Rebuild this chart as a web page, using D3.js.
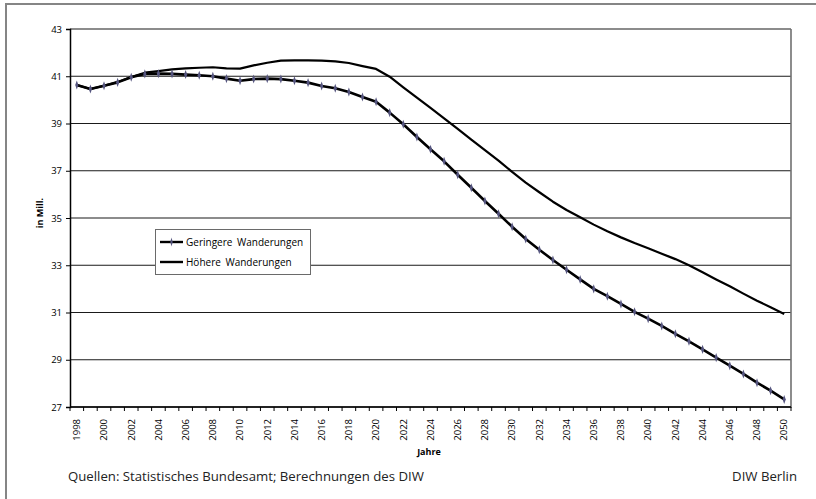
<!DOCTYPE html>
<html>
  <head>
    <meta charset="UTF-8">
    <script src="https://d3js.org/d3.v7.min.js"></script>
    <style>
        body {
            margin: 0;
            background: #fff;
        }
        * {
            font-family: "Open Sans", "Noto Sans", sans-serif;
        }
        .axisLabel {
            font-size: 9.5px;
            fill: #000;
        }
        .axisTitle {
            font-size: 9px;
            font-weight: bold;
            fill: #000;
        }
        .legendText {
            font-size: 10px;
            fill: #000;
            word-spacing: 2px;
        }
        .footer {
            font-size: 13.2px;
            fill: #222;
        }
    </style>
  </head>
  <body>
    <svg id="chart" width="816" height="499"></svg>
    <script>
        // Jahre 1998..2050
        let years = d3.range(1998, 2051)
        let yTicks = [27, 29, 31, 33, 35, 37, 39, 41, 43]
        let seriesNames = ['Geringere Wanderungen', 'Höhere Wanderungen']

        let geringere = [
            40.63, 40.46, 40.60, 40.74, 40.96, 41.10, 41.11, 41.10, 41.07, 41.04,
            41.00, 40.90, 40.81, 40.88, 40.90, 40.88, 40.81, 40.73, 40.59, 40.49,
            40.33, 40.12, 39.92, 39.46, 38.97, 38.43, 37.91, 37.40, 36.83, 36.28,
            35.72, 35.18, 34.63, 34.11, 33.66, 33.22, 32.81, 32.40, 32.00, 31.69,
            31.36, 31.03, 30.74, 30.43, 30.10, 29.78, 29.44, 29.09, 28.75, 28.40,
            28.03, 27.69, 27.32
        ]
        let hoehere = [
            40.63, 40.46, 40.60, 40.76, 40.97, 41.15, 41.22, 41.29, 41.33, 41.36,
            41.38, 41.33, 41.32, 41.46, 41.57, 41.66, 41.67, 41.67, 41.66, 41.63,
            41.56, 41.43, 41.31, 40.98, 40.53, 40.09, 39.66, 39.22, 38.77, 38.32,
            37.87, 37.43, 36.95, 36.50, 36.09, 35.69, 35.34, 35.03, 34.72, 34.44,
            34.18, 33.94, 33.72, 33.49, 33.26, 33.00, 32.70, 32.40, 32.11, 31.80,
            31.50, 31.22, 30.94
        ]

        let svg = d3.select('#chart')
        let plot = {left: 70, top: 29, right: 791, bottom: 407}
        let markerColor = '#55557f'

        // Rahmen
        svg.append('rect')
            .attr('x', 6)
            .attr('y', 4)
            .attr('width', 830)
            .attr('height', 520)
            .attr('fill', 'none')
            .attr('stroke', '#858585')
            .attr('stroke-width', 2)

        let x = d3.scaleBand().domain(years).range([plot.left, plot.right])
        let y = d3.scaleLinear().domain([27, 43]).range([plot.bottom, plot.top])

        // Gitternetz
        svg.append('g')
            .selectAll('line')
            .data(yTicks)
            .enter()
            .append('line')
            .attr('x1', plot.left)
            .attr('x2', plot.right)
            .attr('y1', d => y(d))
            .attr('y2', d => y(d))
            .attr('stroke', '#1a1a1a')
            .attr('stroke-width', 1.1)

        // rechter Rand
        svg.append('line')
            .attr('x1', plot.right).attr('x2', plot.right)
            .attr('y1', plot.top).attr('y2', plot.bottom + 1)
            .attr('stroke', '#707070')
            .attr('stroke-width', 1.6)

        // y-Achse
        let yAxis = svg.append('g')
            .attr('transform', `translate(${plot.left}, 0)`)
            .call(d3.axisLeft(y).tickValues(yTicks).tickSize(4).tickPadding(4).tickFormat(d3.format('d')))
        yAxis.selectAll('text').attr('class', 'axisLabel').attr('font-size', null).attr('font-family', null)
        yAxis.selectAll('line, path').attr('stroke', '#000')
        yAxis.select('path').attr('stroke-width', 1.5)

        // x-Achse, Striche zwischen den Kategorien
        let boundaries = years.map(d => x(d)).concat([plot.right])
        svg.append('line')
            .attr('x1', plot.left).attr('x2', plot.right)
            .attr('y1', plot.bottom).attr('y2', plot.bottom)
            .attr('stroke', '#000')
            .attr('stroke-width', 1.5)
        svg.append('g')
            .selectAll('line')
            .data(boundaries)
            .enter()
            .append('line')
            .attr('x1', d => d).attr('x2', d => d)
            .attr('y1', plot.bottom).attr('y2', plot.bottom + 4)
            .attr('stroke', '#000')

        svg.append('g')
            .selectAll('text')
            .data(years.filter(d => d % 2 === 0))
            .enter()
            .append('text')
            .attr('class', 'axisLabel')
            .attr('transform', d => `translate(${x(d) + x.bandwidth() / 2 + 3.3}, 419) rotate(-90)`)
            .attr('text-anchor', 'end')
            .text(d => d)

        svg.append('text')
            .attr('class', 'axisTitle')
            .attr('x', 429)
            .attr('y', 455)
            .attr('text-anchor', 'middle')
            .text('Jahre')

        svg.append('text')
            .attr('class', 'axisTitle')
            .attr('transform', 'translate(43, 213) rotate(-90)')
            .attr('text-anchor', 'middle')
            .text('in Mill.')

        // Linien
        let line = d3.line()
            .x((d, i) => x(years[i]) + x.bandwidth() / 2)
            .y(d => y(d))

        svg.append('path')
            .datum(hoehere)
            .attr('d', line)
            .attr('fill', 'none')
            .attr('stroke', '#000')
            .attr('stroke-width', 2.2)
            .attr('stroke-linejoin', 'round')

        svg.append('path')
            .datum(geringere)
            .attr('d', line)
            .attr('fill', 'none')
            .attr('stroke', '#000')
            .attr('stroke-width', 2.6)
            .attr('stroke-linejoin', 'round')

        let marker = d3.symbol().type(d3.symbolDiamond).size(14)
        svg.append('g')
            .selectAll('path')
            .data(geringere)
            .enter()
            .append('path')
            .attr('d', marker)
            .attr('transform', (d, i) => `translate(${x(years[i]) + x.bandwidth() / 2}, ${y(d)}) scale(0.8, 1.3)`)
            .attr('fill', markerColor)

        // Legende
        let legend = svg.append('g').attr('transform', 'translate(155, 229)')
        legend.append('rect')
            .attr('x', 0.5).attr('y', 0.5)
            .attr('width', 155).attr('height', 45)
            .attr('fill', '#fff')
            .attr('stroke', '#6a6a6a')
        seriesNames.forEach((name, i) => {
            let ly = 13 + i * 20
            legend.append('line')
                .attr('x1', 5).attr('x2', 28)
                .attr('y1', ly).attr('y2', ly)
                .attr('stroke', '#000')
                .attr('stroke-width', 2.4)
            if (i === 0) {
                legend.append('path')
                    .attr('d', marker)
                    .attr('transform', `translate(16.5, ${ly}) scale(0.6, 1.3)`)
                    .attr('fill', markerColor)
            }
            legend.append('text')
                .attr('class', 'legendText')
                .attr('x', 31)
                .attr('y', ly + 3.5)
                .text(name)
        })

        // Quellen
        svg.append('text')
            .attr('class', 'footer')
            .attr('x', 68)
            .attr('y', 481)
            .text('Quellen: Statistisches Bundesamt; Berechnungen des DIW')

        svg.append('text')
            .attr('class', 'footer')
            .attr('x', 797)
            .attr('y', 481)
            .attr('text-anchor', 'end')
            .text('DIW Berlin')
    </script>
